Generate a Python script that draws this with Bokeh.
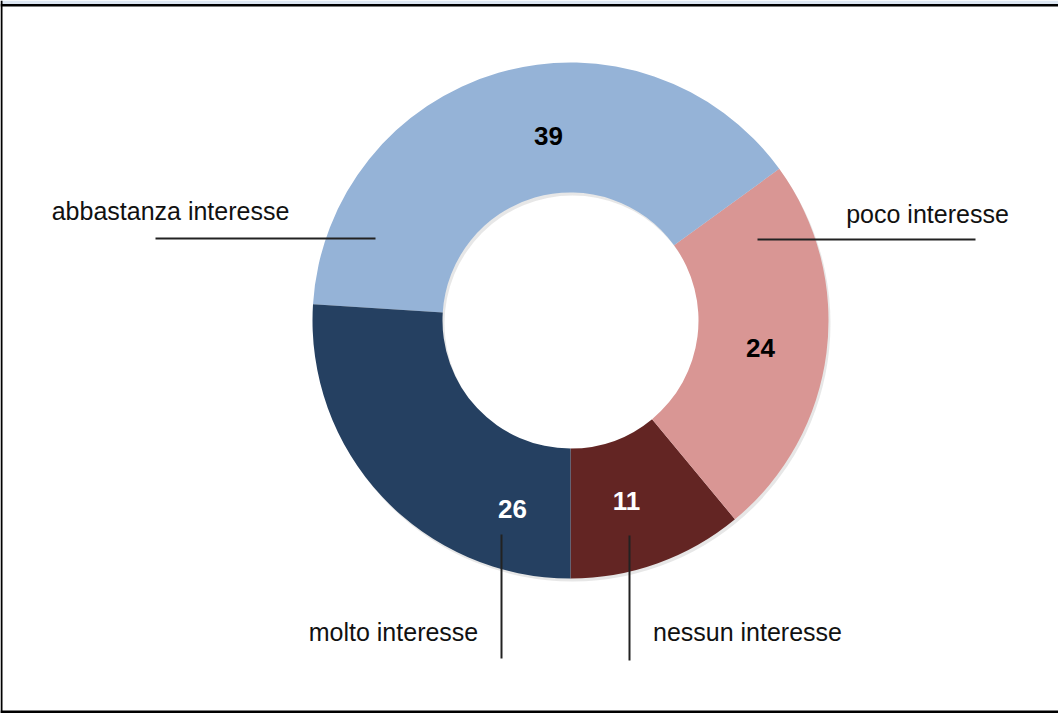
import math
from bokeh.plotting import figure
from bokeh.models import Range1d, ColumnDataSource, BoxAnnotation
from bokeh.core.properties import value
from bokeh.embed import file_html
from bokeh.resources import INLINE

# ---- data ----
categories = ["nessun interesse", "poco interesse", "abbastanza interesse", "molto interesse"]
values = [11, 24, 39, 26]
colors = ["#632523", "#D99694", "#95B3D7", "#254061"]
number_colors = ["white", "black", "black", "white"]

# ---- layout (pixel space, y measured from top) ----
W, H = 1058, 713
CX, CY = 570, 320
R_OUT, R_IN = 258, 128

def py(y):
    return H - y

p = figure(width=W, height=H, output_backend="svg", toolbar_location=None,
           x_range=Range1d(0, W), y_range=Range1d(0, H), min_border=0)
p.axis.visible = False
p.grid.visible = False
p.outline_line_color = None
p.background_fill_color = "white"
p.border_fill_color = "white"

total = float(sum(values))
starts, ends = [], []
a = -math.pi / 2
for v in values:
    starts.append(a)
    a += v / total * 2 * math.pi
    ends.append(a)

src = ColumnDataSource(dict(cat=categories, val=values, color=colors,
                            start=starts, end=ends,
                            x=[CX] * len(values), y=[py(CY)] * len(values)))

# soft shadow
p.annular_wedge(x=CX + 2, y=py(CY) - 3, inner_radius=R_IN, outer_radius=R_OUT,
                start_angle=-math.pi / 2, end_angle=3 * math.pi / 2,
                fill_color="#b0b0b0", fill_alpha=0.3, line_color=None)
p.annular_wedge(x="x", y="y", inner_radius=R_IN, outer_radius=R_OUT,
                start_angle="start", end_angle="end", direction="anticlock",
                fill_color="color", line_color=None, source=src)

# value labels (pixel positions of the reference labels)
num_pos = [(626, 500), (760, 347), (548, 135), (512, 508)]
p.text(x=[q[0] for q in num_pos], y=[py(q[1]) for q in num_pos],
       text=[str(v) for v in values], text_color=number_colors,
       text_font=value("Liberation Sans"), text_font_style="bold",
       text_font_size="26px", text_align="center", text_baseline="middle")

# category labels
lab_pos = [(747, 631), (927, 213), (170, 210), (393, 631)]
p.text(x=[q[0] for q in lab_pos], y=[py(q[1]) for q in lab_pos],
       text=categories, text_color="#111111",
       text_font=value("Liberation Sans"), text_font_size="25px",
       text_align="center", text_baseline="middle")

# leader lines
leaders = [((629, 535), (629, 660)), ((757, 239), (975, 239)),
           ((155, 238), (375, 238)), ((501, 534), (501, 658))]
p.segment(x0=[l[0][0] for l in leaders], y0=[py(l[0][1]) for l in leaders],
          x1=[l[1][0] for l in leaders], y1=[py(l[1][1]) for l in leaders],
          line_color="#222222", line_width=2)

# frame decorations
p.add_layout(BoxAnnotation(bottom=py(4), top=H, fill_color="#DCE6F2", fill_alpha=1, line_color=None))
p.add_layout(BoxAnnotation(bottom=py(6), top=py(3.5), fill_color="black", fill_alpha=1, line_color=None))
p.add_layout(BoxAnnotation(left=0, right=2, fill_color="black", fill_alpha=1, line_color=None))
p.add_layout(BoxAnnotation(bottom=0, top=py(710), fill_color="black", fill_alpha=1, line_color=None))

open("out.html", "w").write(file_html(p, INLINE))
